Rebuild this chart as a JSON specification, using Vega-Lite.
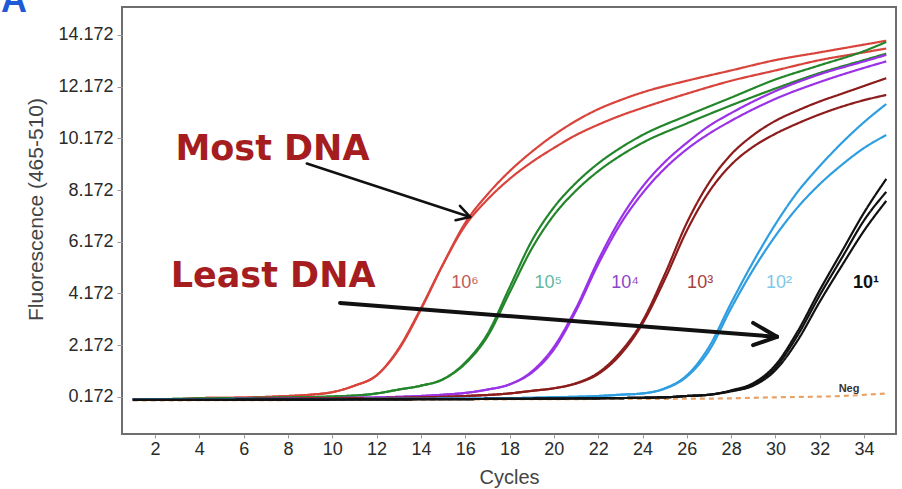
{
  "$schema": "https://vega.github.io/schema/vega-lite/v6.json",
  "width": 774,
  "height": 427,
  "autosize": {"type": "none"},
  "padding": {"left": 122, "top": 7, "right": 6, "bottom": 55},
  "background": "white",
  "config": {
    "view": {"stroke": "#6e6e6e", "strokeWidth": 2},
    "axis": {"grid": false, "domain": false, "labelFont": "Liberation Sans", "titleFont": "Liberation Sans", "titleFontWeight": "normal"}
  },
  "resolve": {"scale": {"color": "independent"}},
  "encoding": {
    "x": {
      "field": "c", "type": "quantitative",
      "scale": {"domain": [0.51, 35.44], "nice": false, "zero": false},
      "axis": {
        "values": [2, 4, 6, 8, 10, 12, 14, 16, 18, 20, 22, 24, 26, 28, 30, 32, 34],
        "title": "Cycles", "titleFontSize": 20, "titleColor": "#444", "titleY": 49, "titleBaseline": "alphabetic",
        "labelFontSize": 18, "labelColor": "#2a2a2a", "tickSize": 4, "tickColor": "#999", "labelPadding": 2, "labelFlush": false
      }
    },
    "y": {
      "field": "v", "type": "quantitative",
      "scale": {"domain": [-1.27, 15.255], "nice": false, "zero": false},
      "axis": {
        "values": [0.172, 2.172, 4.172, 6.172, 8.172, 10.172, 12.172, 14.172],
        "format": ".3f",
        "title": "Fluorescence (465-510)", "titleFontSize": 21, "titleColor": "#444",
        "titleX": -86, "titleY": 202, "titleAngle": -90, "titleAlign": "center", "titleBaseline": "middle",
        "labelFontSize": 18, "labelColor": "#2a2a2a", "tickSize": 5, "tickColor": "#999", "labelPadding": 4
      }
    }
  },
  "layer": [
    {
      "data": {"values": [
        {"s":"a0","g":"neg","c":1,"v":0.03},{"s":"a0","g":"neg","c":10,"v":0.05},{"s":"a0","g":"neg","c":20,"v":0.08},{"s":"a0","g":"neg","c":27,"v":0.1},{"s":"a0","g":"neg","c":30,"v":0.15},{"s":"a0","g":"neg","c":33,"v":0.2},{"s":"a0","g":"neg","c":35,"v":0.3},

        {"s":"b1","g":"r","c":1,"v":0.07},{"s":"b1","g":"r","c":3,"v":0.08},{"s":"b1","g":"r","c":4,"v":0.12},{"s":"b1","g":"r","c":6,"v":0.14},{"s":"b1","g":"r","c":8,"v":0.2},{"s":"b1","g":"r","c":9,"v":0.25},{"s":"b1","g":"r","c":10,"v":0.35},{"s":"b1","g":"r","c":11,"v":0.6},{"s":"b1","g":"r","c":12,"v":1.0},{"s":"b1","g":"r","c":13,"v":2.0},{"s":"b1","g":"r","c":14,"v":3.55},{"s":"b1","g":"r","c":15,"v":5.3},{"s":"b1","g":"r","c":16,"v":6.9},{"s":"b1","g":"r","c":17,"v":8.0},{"s":"b1","g":"r","c":18,"v":8.9},{"s":"b1","g":"r","c":19,"v":9.65},{"s":"b1","g":"r","c":20,"v":10.3},{"s":"b1","g":"r","c":21,"v":10.85},{"s":"b1","g":"r","c":22,"v":11.3},{"s":"b1","g":"r","c":23,"v":11.65},{"s":"b1","g":"r","c":24,"v":11.95},{"s":"b1","g":"r","c":26,"v":12.4},{"s":"b1","g":"r","c":28,"v":12.8},{"s":"b1","g":"r","c":30,"v":13.2},{"s":"b1","g":"r","c":32,"v":13.5},{"s":"b1","g":"r","c":34,"v":13.8},{"s":"b1","g":"r","c":35,"v":13.95},

        {"s":"b2","g":"r","c":1,"v":0.07},{"s":"b2","g":"r","c":3,"v":0.08},{"s":"b2","g":"r","c":4,"v":0.12},{"s":"b2","g":"r","c":6,"v":0.14},{"s":"b2","g":"r","c":8,"v":0.2},{"s":"b2","g":"r","c":9,"v":0.25},{"s":"b2","g":"r","c":10,"v":0.35},{"s":"b2","g":"r","c":11,"v":0.6},{"s":"b2","g":"r","c":12,"v":1.0},{"s":"b2","g":"r","c":13,"v":2.05},{"s":"b2","g":"r","c":14,"v":3.6},{"s":"b2","g":"r","c":15,"v":5.3},{"s":"b2","g":"r","c":16,"v":6.8},{"s":"b2","g":"r","c":17,"v":7.8},{"s":"b2","g":"r","c":18,"v":8.6},{"s":"b2","g":"r","c":19,"v":9.25},{"s":"b2","g":"r","c":20,"v":9.8},{"s":"b2","g":"r","c":21,"v":10.3},{"s":"b2","g":"r","c":22,"v":10.7},{"s":"b2","g":"r","c":23,"v":11.05},{"s":"b2","g":"r","c":24,"v":11.35},{"s":"b2","g":"r","c":26,"v":11.9},{"s":"b2","g":"r","c":28,"v":12.4},{"s":"b2","g":"r","c":30,"v":12.8},{"s":"b2","g":"r","c":32,"v":13.2},{"s":"b2","g":"r","c":34,"v":13.5},{"s":"b2","g":"r","c":35,"v":13.65},

        {"s":"c1","g":"gr","c":1,"v":0.07},{"s":"c1","g":"gr","c":6,"v":0.12},{"s":"c1","g":"gr","c":10,"v":0.18},{"s":"c1","g":"gr","c":12,"v":0.3},{"s":"c1","g":"gr","c":13,"v":0.45},{"s":"c1","g":"gr","c":14,"v":0.6},{"s":"c1","g":"gr","c":15,"v":0.85},{"s":"c1","g":"gr","c":16,"v":1.5},{"s":"c1","g":"gr","c":17,"v":2.6},{"s":"c1","g":"gr","c":18,"v":4.4},{"s":"c1","g":"gr","c":19,"v":6.2},{"s":"c1","g":"gr","c":20,"v":7.5},{"s":"c1","g":"gr","c":21,"v":8.45},{"s":"c1","g":"gr","c":22,"v":9.2},{"s":"c1","g":"gr","c":23,"v":9.8},{"s":"c1","g":"gr","c":24,"v":10.3},{"s":"c1","g":"gr","c":26,"v":11.05},{"s":"c1","g":"gr","c":28,"v":11.75},{"s":"c1","g":"gr","c":30,"v":12.45},{"s":"c1","g":"gr","c":32,"v":13.0},{"s":"c1","g":"gr","c":34,"v":13.55},{"s":"c1","g":"gr","c":35,"v":13.9},

        {"s":"c2","g":"gr","c":1,"v":0.07},{"s":"c2","g":"gr","c":6,"v":0.12},{"s":"c2","g":"gr","c":10,"v":0.18},{"s":"c2","g":"gr","c":12,"v":0.3},{"s":"c2","g":"gr","c":13,"v":0.45},{"s":"c2","g":"gr","c":14,"v":0.6},{"s":"c2","g":"gr","c":15,"v":0.85},{"s":"c2","g":"gr","c":16,"v":1.45},{"s":"c2","g":"gr","c":17,"v":2.5},{"s":"c2","g":"gr","c":18,"v":4.2},{"s":"c2","g":"gr","c":19,"v":5.9},{"s":"c2","g":"gr","c":20,"v":7.2},{"s":"c2","g":"gr","c":21,"v":8.15},{"s":"c2","g":"gr","c":22,"v":8.9},{"s":"c2","g":"gr","c":23,"v":9.5},{"s":"c2","g":"gr","c":24,"v":10.0},{"s":"c2","g":"gr","c":26,"v":10.75},{"s":"c2","g":"gr","c":28,"v":11.45},{"s":"c2","g":"gr","c":30,"v":12.1},{"s":"c2","g":"gr","c":32,"v":12.7},{"s":"c2","g":"gr","c":34,"v":13.2},{"s":"c2","g":"gr","c":35,"v":13.45},

        {"s":"d1","g":"p","c":1,"v":0.07},{"s":"d1","g":"p","c":10,"v":0.12},{"s":"d1","g":"p","c":14,"v":0.2},{"s":"d1","g":"p","c":15,"v":0.25},{"s":"d1","g":"p","c":16,"v":0.32},{"s":"d1","g":"p","c":17,"v":0.45},{"s":"d1","g":"p","c":18,"v":0.65},{"s":"d1","g":"p","c":19,"v":1.1},{"s":"d1","g":"p","c":20,"v":2.0},{"s":"d1","g":"p","c":21,"v":3.5},{"s":"d1","g":"p","c":22,"v":5.3},{"s":"d1","g":"p","c":23,"v":6.85},{"s":"d1","g":"p","c":24,"v":8.05},{"s":"d1","g":"p","c":25,"v":9.0},{"s":"d1","g":"p","c":26,"v":9.75},{"s":"d1","g":"p","c":27,"v":10.35},{"s":"d1","g":"p","c":28,"v":10.85},{"s":"d1","g":"p","c":29,"v":11.3},{"s":"d1","g":"p","c":30,"v":11.7},{"s":"d1","g":"p","c":32,"v":12.35},{"s":"d1","g":"p","c":34,"v":12.9},{"s":"d1","g":"p","c":35,"v":13.15},

        {"s":"d2","g":"p","c":1,"v":0.07},{"s":"d2","g":"p","c":10,"v":0.12},{"s":"d2","g":"p","c":14,"v":0.2},{"s":"d2","g":"p","c":15,"v":0.25},{"s":"d2","g":"p","c":16,"v":0.32},{"s":"d2","g":"p","c":17,"v":0.45},{"s":"d2","g":"p","c":18,"v":0.65},{"s":"d2","g":"p","c":19,"v":1.15},{"s":"d2","g":"p","c":20,"v":2.1},{"s":"d2","g":"p","c":21,"v":3.6},{"s":"d2","g":"p","c":22,"v":5.45},{"s":"d2","g":"p","c":23,"v":7.05},{"s":"d2","g":"p","c":24,"v":8.3},{"s":"d2","g":"p","c":25,"v":9.25},{"s":"d2","g":"p","c":26,"v":10.0},{"s":"d2","g":"p","c":27,"v":10.65},{"s":"d2","g":"p","c":28,"v":11.15},{"s":"d2","g":"p","c":29,"v":11.6},{"s":"d2","g":"p","c":30,"v":12.0},{"s":"d2","g":"p","c":32,"v":12.65},{"s":"d2","g":"p","c":34,"v":13.15},{"s":"d2","g":"p","c":35,"v":13.4},

        {"s":"e1","g":"dr","c":1,"v":0.07},{"s":"e1","g":"dr","c":12,"v":0.12},{"s":"e1","g":"dr","c":16,"v":0.2},{"s":"e1","g":"dr","c":18,"v":0.3},{"s":"e1","g":"dr","c":19,"v":0.4},{"s":"e1","g":"dr","c":20,"v":0.5},{"s":"e1","g":"dr","c":21,"v":0.7},{"s":"e1","g":"dr","c":22,"v":1.1},{"s":"e1","g":"dr","c":23,"v":1.9},{"s":"e1","g":"dr","c":24,"v":3.1},{"s":"e1","g":"dr","c":25,"v":4.9},{"s":"e1","g":"dr","c":26,"v":6.9},{"s":"e1","g":"dr","c":27,"v":8.45},{"s":"e1","g":"dr","c":28,"v":9.55},{"s":"e1","g":"dr","c":29,"v":10.3},{"s":"e1","g":"dr","c":30,"v":10.85},{"s":"e1","g":"dr","c":31,"v":11.25},{"s":"e1","g":"dr","c":32,"v":11.6},{"s":"e1","g":"dr","c":33,"v":11.9},{"s":"e1","g":"dr","c":34,"v":12.2},{"s":"e1","g":"dr","c":35,"v":12.5},

        {"s":"e2","g":"dr","c":1,"v":0.07},{"s":"e2","g":"dr","c":12,"v":0.12},{"s":"e2","g":"dr","c":16,"v":0.2},{"s":"e2","g":"dr","c":18,"v":0.3},{"s":"e2","g":"dr","c":19,"v":0.4},{"s":"e2","g":"dr","c":20,"v":0.5},{"s":"e2","g":"dr","c":21,"v":0.68},{"s":"e2","g":"dr","c":22,"v":1.05},{"s":"e2","g":"dr","c":23,"v":1.8},{"s":"e2","g":"dr","c":24,"v":3.0},{"s":"e2","g":"dr","c":25,"v":4.7},{"s":"e2","g":"dr","c":26,"v":6.6},{"s":"e2","g":"dr","c":27,"v":8.1},{"s":"e2","g":"dr","c":28,"v":9.15},{"s":"e2","g":"dr","c":29,"v":9.85},{"s":"e2","g":"dr","c":30,"v":10.35},{"s":"e2","g":"dr","c":31,"v":10.75},{"s":"e2","g":"dr","c":32,"v":11.1},{"s":"e2","g":"dr","c":33,"v":11.4},{"s":"e2","g":"dr","c":34,"v":11.65},{"s":"e2","g":"dr","c":35,"v":11.85},

        {"s":"f1","g":"b","c":1,"v":0.07},{"s":"f1","g":"b","c":16,"v":0.1},{"s":"f1","g":"b","c":20,"v":0.15},{"s":"f1","g":"b","c":22,"v":0.2},{"s":"f1","g":"b","c":23,"v":0.25},{"s":"f1","g":"b","c":24,"v":0.3},{"s":"f1","g":"b","c":25,"v":0.5},{"s":"f1","g":"b","c":26,"v":1.0},{"s":"f1","g":"b","c":27,"v":2.1},{"s":"f1","g":"b","c":28,"v":3.8},{"s":"f1","g":"b","c":29,"v":5.4},{"s":"f1","g":"b","c":30,"v":6.85},{"s":"f1","g":"b","c":31,"v":8.1},{"s":"f1","g":"b","c":32,"v":9.1},{"s":"f1","g":"b","c":33,"v":10.0},{"s":"f1","g":"b","c":34,"v":10.8},{"s":"f1","g":"b","c":35,"v":11.5},

        {"s":"f2","g":"b","c":1,"v":0.07},{"s":"f2","g":"b","c":16,"v":0.1},{"s":"f2","g":"b","c":20,"v":0.15},{"s":"f2","g":"b","c":22,"v":0.2},{"s":"f2","g":"b","c":23,"v":0.25},{"s":"f2","g":"b","c":24,"v":0.3},{"s":"f2","g":"b","c":25,"v":0.48},{"s":"f2","g":"b","c":26,"v":0.95},{"s":"f2","g":"b","c":27,"v":1.95},{"s":"f2","g":"b","c":28,"v":3.6},{"s":"f2","g":"b","c":29,"v":5.1},{"s":"f2","g":"b","c":30,"v":6.4},{"s":"f2","g":"b","c":31,"v":7.5},{"s":"f2","g":"b","c":32,"v":8.4},{"s":"f2","g":"b","c":33,"v":9.15},{"s":"f2","g":"b","c":34,"v":9.8},{"s":"f2","g":"b","c":35,"v":10.3},

        {"s":"g1","g":"k","c":1,"v":0.05},{"s":"g1","g":"k","c":20,"v":0.1},{"s":"g1","g":"k","c":25,"v":0.15},{"s":"g1","g":"k","c":26,"v":0.2},{"s":"g1","g":"k","c":27,"v":0.25},{"s":"g1","g":"k","c":28,"v":0.42},{"s":"g1","g":"k","c":29,"v":0.7},{"s":"g1","g":"k","c":30,"v":1.4},{"s":"g1","g":"k","c":31,"v":2.7},{"s":"g1","g":"k","c":32,"v":4.3},{"s":"g1","g":"k","c":33,"v":5.8},{"s":"g1","g":"k","c":34,"v":7.3},{"s":"g1","g":"k","c":35,"v":8.6},

        {"s":"g2","g":"k","c":1,"v":0.05},{"s":"g2","g":"k","c":20,"v":0.1},{"s":"g2","g":"k","c":25,"v":0.15},{"s":"g2","g":"k","c":26,"v":0.2},{"s":"g2","g":"k","c":27,"v":0.25},{"s":"g2","g":"k","c":28,"v":0.4},{"s":"g2","g":"k","c":29,"v":0.65},{"s":"g2","g":"k","c":30,"v":1.3},{"s":"g2","g":"k","c":31,"v":2.55},{"s":"g2","g":"k","c":32,"v":4.1},{"s":"g2","g":"k","c":33,"v":5.55},{"s":"g2","g":"k","c":34,"v":7.0},{"s":"g2","g":"k","c":35,"v":8.1},

        {"s":"g3","g":"k","c":1,"v":0.05},{"s":"g3","g":"k","c":20,"v":0.1},{"s":"g3","g":"k","c":25,"v":0.15},{"s":"g3","g":"k","c":26,"v":0.2},{"s":"g3","g":"k","c":27,"v":0.25},{"s":"g3","g":"k","c":28,"v":0.38},{"s":"g3","g":"k","c":29,"v":0.6},{"s":"g3","g":"k","c":30,"v":1.2},{"s":"g3","g":"k","c":31,"v":2.35},{"s":"g3","g":"k","c":32,"v":3.85},{"s":"g3","g":"k","c":33,"v":5.25},{"s":"g3","g":"k","c":34,"v":6.6},{"s":"g3","g":"k","c":35,"v":7.75}
      ]},
      "mark": {"type": "line", "interpolate": "monotone", "strokeWidth": 2.2, "clip": true},
      "encoding": {
        "color": {"field": "g", "type": "nominal", "legend": null,
          "scale": {"domain": ["neg", "r", "gr", "p", "dr", "b", "k"], "range": ["#e8a468", "#d8443c", "#23862a", "#9a32e6", "#8c1c1c", "#2f9ee0", "#111111"]}},
        "strokeDash": {"field": "g", "type": "nominal", "legend": null,
          "scale": {"domain": ["neg", "r", "gr", "p", "dr", "b", "k"], "range": [[5, 4], [1, 0], [1, 0], [1, 0], [1, 0], [1, 0], [1, 0]]}},
        "detail": {"field": "s", "type": "nominal"}
      }
    },
    {
      "data": {"values": [
        {"c": 8.85, "v": 9.20, "c2": 16.22, "v2": 7.13},
        {"c": 15.76, "v": 7.56, "c2": 16.22, "v2": 7.13},
        {"c": 15.56, "v": 7.00, "c2": 16.22, "v2": 7.13}
      ]},
      "mark": {"type": "rule", "color": "#111", "strokeWidth": 2.5, "strokeCap": "round"},
      "encoding": {"x2": {"field": "c2"}, "y2": {"field": "v2"}}
    },
    {
      "data": {"values": [
        {"c": 10.35, "v": 3.80, "c2": 30.07, "v2": 2.49},
        {"c": 28.99, "v": 3.03, "c2": 30.07, "v2": 2.49},
        {"c": 28.99, "v": 2.17, "c2": 30.07, "v2": 2.49}
      ]},
      "mark": {"type": "rule", "color": "#111", "strokeWidth": 4, "strokeCap": "round"},
      "encoding": {"x2": {"field": "c2"}, "y2": {"field": "v2"}}
    },
    {
      "data": {"values": [
        {"t": "Most DNA", "c": 7.30, "v": 9.33},
        {"t": "Least DNA", "c": 7.33, "v": 4.42}
      ]},
      "mark": {"type": "text", "font": "DejaVu Sans", "fontWeight": "bold", "fontSize": 35, "color": "#a51d1f", "align": "center", "baseline": "alphabetic"},
      "encoding": {"text": {"field": "t"}}
    },
    {
      "data": {"values": [
        {"t": "10⁶", "c": 15.99, "v": 4.38},
        {"t": "10⁵", "c": 19.74, "v": 4.38},
        {"t": "10⁴", "c": 23.21, "v": 4.38},
        {"t": "10³", "c": 26.60, "v": 4.38},
        {"t": "10²", "c": 30.16, "v": 4.38}
      ]},
      "mark": {"type": "text", "font": "Liberation Sans", "fontSize": 18, "align": "center", "baseline": "alphabetic"},
      "encoding": {
        "text": {"field": "t"},
        "color": {"field": "t", "type": "nominal", "legend": null,
          "scale": {"domain": ["10⁶", "10⁵", "10⁴", "10³", "10²"], "range": ["#c05a5a", "#5fb8a0", "#8c47c8", "#a8403c", "#7cc8e8"]}}
      }
    },
    {
      "data": {"values": [{"t": "10¹", "c": 34.09, "v": 4.38}]},
      "mark": {"type": "text", "font": "Liberation Sans", "fontWeight": "bold", "fontSize": 18, "color": "#111", "align": "center", "baseline": "alphabetic"},
      "encoding": {"text": {"field": "t"}}
    },
    {
      "data": {"values": [{"t": "Neg", "c": 33.32, "v": 0.35}]},
      "mark": {"type": "text", "font": "Liberation Sans", "fontWeight": "bold", "fontSize": 11, "color": "#333", "align": "center", "baseline": "alphabetic"},
      "encoding": {"text": {"field": "t"}}
    },
    {
      "data": {"values": [{"t": "A", "c": -4.36, "v": 15.06}]},
      "mark": {"type": "text", "font": "Liberation Sans", "fontWeight": "bold", "fontSize": 36, "color": "#1f5ad6", "align": "center", "baseline": "alphabetic"},
      "encoding": {"text": {"field": "t"}}
    }
  ]
}
